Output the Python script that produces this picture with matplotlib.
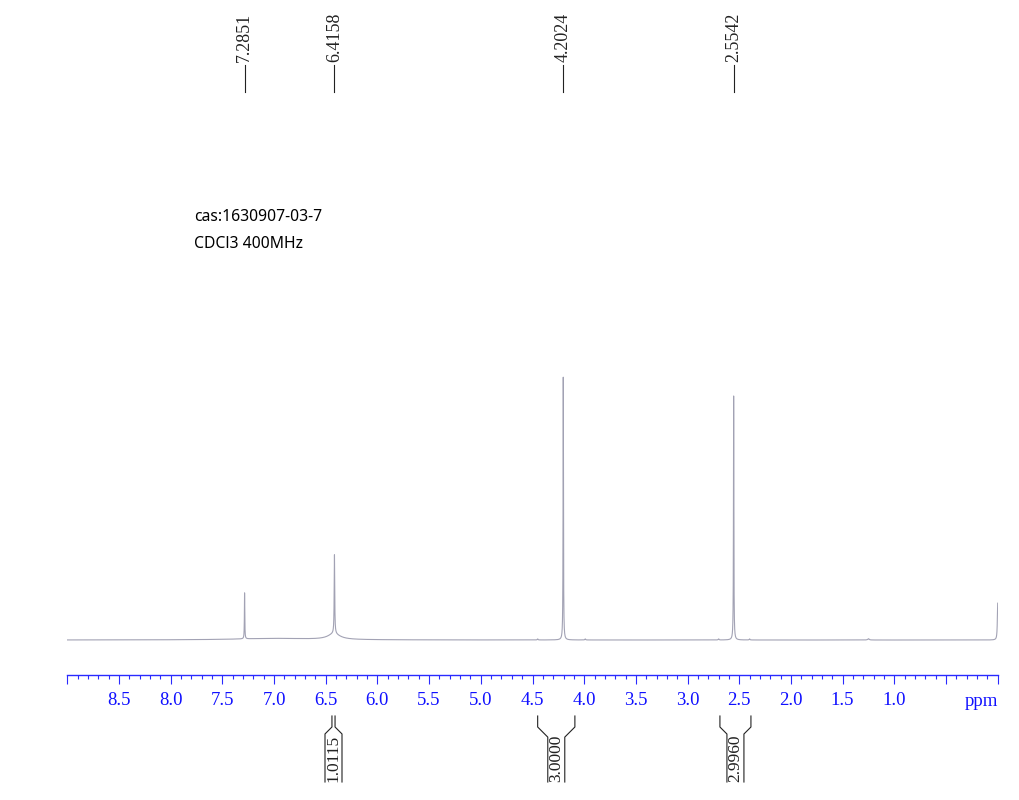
import numpy as np
import matplotlib
matplotlib.use('Agg')
import matplotlib.pyplot as plt
import matplotlib.transforms as mtransforms
from matplotlib.ticker import MultipleLocator, FixedLocator

# peak list (ppm, relative height, half width in ppm)
peak_ppm = [7.2851, 6.4158, 4.2024, 2.5542, 0.0]
peak_height = [17.5, 30.0, 100.0, 92.8, 14.0]
peak_width = [0.0022, 0.003, 0.0022, 0.0022, 0.004]

# small features: satellites, broad hump under 6.42, slight baseline lift
minor_ppm = [6.42, 7.0, 4.45, 3.99, 2.70, 2.40, 1.25]
minor_height = [2.2, 0.6, 0.4, 0.4, 0.4, 0.4, 0.5]
minor_width = [0.07, 0.45, 0.004, 0.004, 0.004, 0.004, 0.008]

# labels at the top
label_ppm = [7.2851, 6.4158, 4.2024, 2.5542]
label_text = ['7.2851', '6.4158', '4.2024', '2.5542']

# integrals (range start, range end, value)
integ_from = [6.44, 4.45, 2.687]
integ_to = [6.41, 4.09, 2.387]
integ_text = ['1.0115', '3.0000', '2.9960']

tick_labels = ['8.5', '8.0', '7.5', '7.0', '6.5', '6.0', '5.5', '5.0', '4.5',
               '4.0', '3.5', '3.0', '2.5', '2.0', '1.5', '1.0']

W, H = 1019, 800
fig = plt.figure(figsize=(W / 100, H / 100), dpi=100)
ax = fig.add_axes([67.3 / W, 125 / H, 930.4 / W, 575 / H])

x = np.linspace(9.0, 0.0, 60000)
y = np.zeros_like(x)
for p, h, w in zip(peak_ppm + minor_ppm, peak_height + minor_height,
                   peak_width + minor_width):
    y += h * w ** 2 / ((x - p) ** 2 + w ** 2)

ax.plot(x, y, color='#a2a2b4', lw=0.8)
ax.set_xlim(9.0, 0.0)
ax.set_ylim(-13.3, 205.3)

blue = '#2a2aff'
for s in ['top', 'left', 'right']:
    ax.spines[s].set_visible(False)
ax.spines['bottom'].set_color(blue)
ax.spines['bottom'].set_linewidth(1.0)
ax.set_yticks([])

major = list(np.arange(0.0, 9.01, 0.5))
ax.xaxis.set_major_locator(FixedLocator(major))
labels = []
for m in major:
    t = '%.1f' % m
    labels.append(t if t in tick_labels else '')
ax.set_xticklabels(labels)
ax.xaxis.set_minor_locator(MultipleLocator(0.1))
ax.tick_params(axis='x', which='major', direction='out', length=6.5, width=0.8,
               color=blue, labelcolor='#1010ff', labelsize=13.5, pad=6)
ax.tick_params(axis='x', which='minor', direction='out', length=3, width=0.8,
               color=blue)
for lab in ax.get_xticklabels():
    lab.set_fontfamily('Liberation Serif')
ax.text(0.0, -27 / 575, 'ppm', transform=mtransforms.blended_transform_factory(
    ax.transData, ax.transAxes), ha='right', va='center', color='#1010ff',
    fontsize=13.5, family='Liberation Serif')

trans = mtransforms.blended_transform_factory(ax.transData, fig.transFigure)


def fy(px):
    return 1 - px / H


# peak labels on top
for p, t in zip(label_ppm, label_text):
    ax.plot([p, p], [fy(92), fy(65)], transform=trans, color='#222222',
            lw=0.8, clip_on=False)
    ax.text(p, fy(62), t, transform=trans, rotation=90, ha='center',
            va='bottom', fontsize=13, family='Liberation Serif',
            color='#222222')

# integral brackets below the axis
px_per_ppm = 930.4 / 9.0
half_box = 8.5 / px_per_ppm
for a, b, t in zip(integ_from, integ_to, integ_text):
    c = (a + b) / 2
    for end, edge in [(a, c + half_box), (b, c - half_box)]:
        drop = 727 + abs(end - edge) * px_per_ppm
        ax.plot([end, end, edge, edge], [fy(716), fy(727), fy(drop), fy(782)],
                transform=trans, color='#222222', lw=0.8, clip_on=False)
    ax.text(c, fy(758), t, transform=trans, rotation=90, ha='center',
            va='center', fontsize=12.5, family='Liberation Serif',
            color='#222222')

fig.text(194 / W, fy(217), 'cas:1630907-03-7', fontsize=11.3,
         family='Noto Sans', va='center', ha='left')
fig.text(194 / W, fy(244), 'CDCl3 400MHz', fontsize=11.3,
         family='Noto Sans', va='center', ha='left')

fig.savefig('out.png', dpi=100)
